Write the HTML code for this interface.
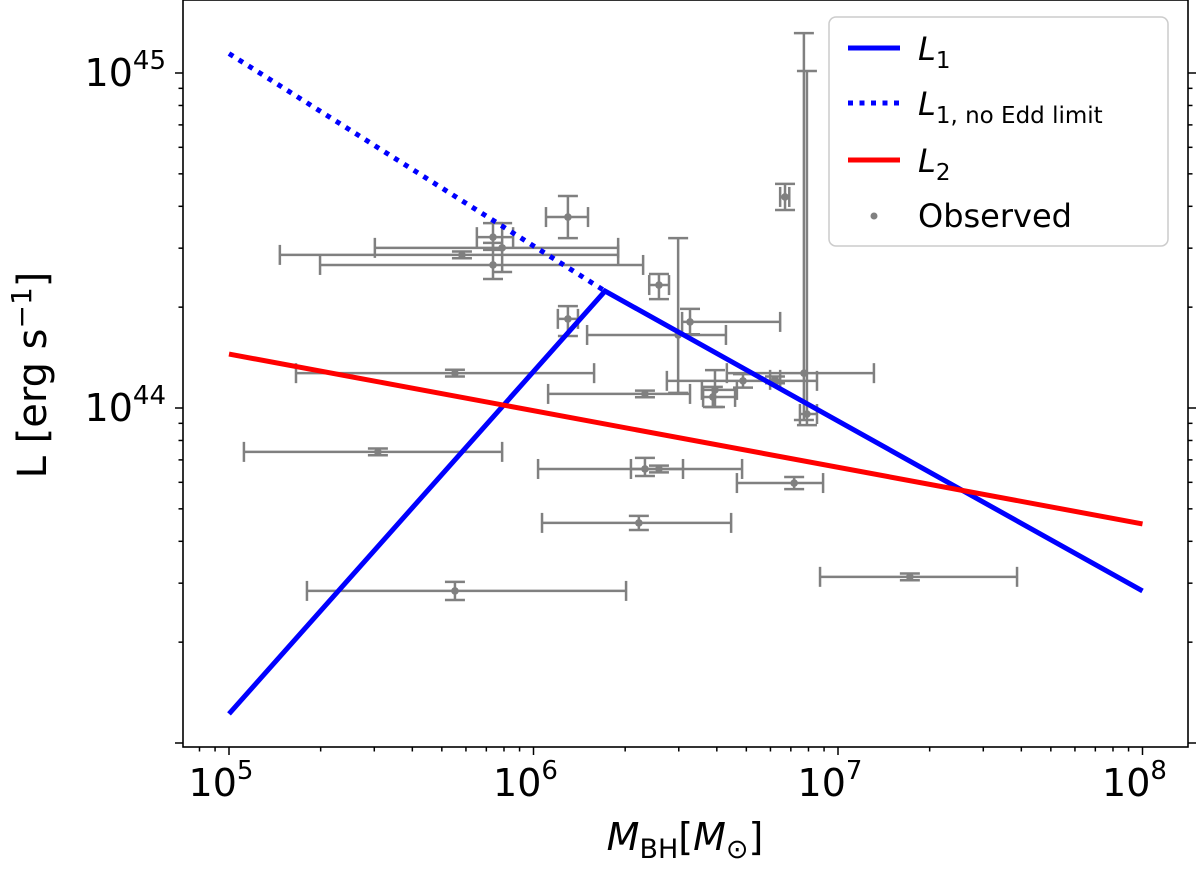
<!DOCTYPE html>
<html><head><meta charset="utf-8"><style>
body{margin:0;background:#fff}
svg{display:block;font-family:"DejaVu Sans","Liberation Sans",sans-serif}
</style></head><body>
<svg id="chart" width="1200" height="869" viewBox="0 0 1200 869" xmlns="http://www.w3.org/2000/svg">
<rect x="0" y="0" width="1200" height="869" fill="#fff"/>
<g id="errs"></g>
<g id="lines"></g>
<g id="axes"></g>
<rect x="183" y="0" width="1005" height="747" fill="none" stroke="#000" stroke-width="1.6"/>
<g>
<rect x="829" y="17" width="339" height="229" rx="7" fill="#fff" fill-opacity="0.85" stroke="#ccc" stroke-width="1.5"/>
<line x1="848" y1="48" x2="900" y2="48" stroke="#0000ff" stroke-width="5"/>
<text x="918" y="60" font-size="32"><tspan font-style="italic">L</tspan><tspan font-size="23" dy="8">1</tspan></text>
<line x1="848" y1="103" x2="900" y2="103" stroke="#0000ff" stroke-width="5" stroke-dasharray="5,6.5"/>
<text x="918" y="115" font-size="32"><tspan font-style="italic">L</tspan><tspan font-size="23" dy="8">1, no Edd limit</tspan></text>
<line x1="848" y1="160" x2="900" y2="160" stroke="#ff0000" stroke-width="5"/>
<text x="918" y="172" font-size="32"><tspan font-style="italic">L</tspan><tspan font-size="23" dy="8">2</tspan></text>
<circle cx="874" cy="216" r="3.5" fill="#808080"/>
<text x="918" y="227" font-size="32">Observed</text>
</g>
<text transform="translate(46,375) rotate(-90)" text-anchor="middle" font-size="40">L [erg s<tspan font-size="28" dy="-15">−1</tspan><tspan dy="15">]</tspan></text>
<text x="685" y="850" text-anchor="middle" font-size="38"><tspan font-style="italic">M</tspan><tspan font-size="27" dy="8">BH</tspan><tspan dy="-8">[</tspan><tspan font-style="italic">M</tspan><tspan font-size="27" dy="8">⊙</tspan><tspan dy="-8">]</tspan></text>
</svg>
<script>
// log10 values
const obsLogM   = [5.867,5.897,5.765,5.867,6.113,6.412,6.113,6.475,6.514,5.742,6.366,5.489,5.742,6.366,6.412,6.856,6.346,7.236,6.826,6.596,6.589,6.688,6.793,6.888,6.898];
const obsLogMlo = [5.814,5.479,5.167,5.299,6.041,6.380,6.080,6.176,6.488,5.220,6.048,5.049,5.256,6.015,6.320,6.668,6.028,6.941,6.810,6.553,6.557,6.438,6.777,6.635,6.875];
const obsLogMhi = [5.933,6.278,6.278,6.360,6.179,6.445,6.146,6.632,6.810,6.199,6.514,5.897,6.304,6.491,6.685,6.951,6.649,7.588,6.840,6.668,6.662,6.931,6.810,7.118,6.931];
const obsLogL   = [44.510,44.478,44.457,44.427,44.570,44.367,44.266,44.218,44.257,44.104,44.042,43.869,43.454,43.818,43.818,43.776,43.657,43.496,44.630,44.054,44.033,44.081,44.084,44.104,43.982];
const obsLogLlo = [44.472,44.406,44.447,44.385,44.507,44.325,44.215,44.045,44.220,44.094,44.032,43.859,43.427,43.797,43.808,43.758,43.636,43.486,44.591,44.003,44.003,44.061,44.074,43.964,43.949];
const obsLogLhi = [44.552,44.552,44.467,44.493,44.633,44.400,44.304,44.507,44.296,44.114,44.052,43.879,43.481,43.851,43.828,43.794,43.678,43.506,44.669,44.113,44.063,44.101,44.094,45.119,45.006];
const l1LogM = [5, 6.235, 8];
const l1LogL = [43.087, 44.349, 43.454];
const l1ndLogM = [5, 6.235];
const l1ndLogL = [45.058, 44.349];
const l2LogM = [5, 8];
const l2LogL = [44.161, 43.654];
const xMajor = [5,6,7,8];
const yMajor = [44,45];
const xTickLabels = ['10','10','10','10'];
const xTickExp = ['5','6','7','8'];
const yTickExp = ['44','45'];

const NS='http://www.w3.org/2000/svg';
const X = v => 229 + (v-5)*304.5;
const Y = v => 408 - (v-44)*335;
function mk(tag, attrs, parent){const e=document.createElementNS(NS,tag);for(const k in attrs)e.setAttribute(k,attrs[k]);parent.appendChild(e);return e;}
const errs=document.getElementById('errs');
const gray='#808080';
for(let i=0;i<obsLogM.length;i++){
  const g=mk('g',{},errs);
  
  
  const x=X(obsLogM[i]),y=Y(obsLogL[i]);
  const x1=X(obsLogMlo[i]),x2=X(obsLogMhi[i]),y1=Y(obsLogLlo[i]),y2=Y(obsLogLhi[i]);
  const s={stroke:gray,'stroke-width':2.5,fill:'none'};
  mk('line',Object.assign({x1:x1,y1:y,x2:x2,y2:y},s),g);
  mk('line',Object.assign({x1:x1,y1:y-10,x2:x1,y2:y+10},s),g);
  mk('line',Object.assign({x1:x2,y1:y-10,x2:x2,y2:y+10},s),g);
  mk('line',Object.assign({x1:x,y1:y1,x2:x,y2:y2},s),g);
  mk('line',Object.assign({x1:x-10,y1:y1,x2:x+10,y2:y1},s),g);
  mk('line',Object.assign({x1:x-10,y1:y2,x2:x+10,y2:y2},s),g);
  mk('circle',{cx:x,cy:y,r:3.8,fill:gray},g);
}
const lines=document.getElementById('lines');
function poly(ms,ls,attrs,name){
  const p=mk('polyline',Object.assign({points:ms.map((m,i)=>X(m)+','+Y(ls[i])).join(' '),fill:'none'},attrs),lines);
  
  
}
poly(l1ndLogM,l1ndLogL,{stroke:'#0000ff','stroke-width':5,'stroke-dasharray':'5,6.5'},'l1-no-edd-line');
poly(l1LogM,l1LogL,{stroke:'#0000ff','stroke-width':5},'l1-line');
poly(l2LogM,l2LogL,{stroke:'#ff0000','stroke-width':5},'l2-line');

const axes=document.getElementById('axes');
function tick(x1,y1,x2,y2,name){const t=mk('line',{x1:x1,y1:y1,x2:x2,y2:y2,stroke:'#000','stroke-width':1.5},axes);}
for(let d=4;d<=8;d++){for(let k=1;k<10;k++){const v=d+Math.log10(k);const x=X(v);if(x<184||x>1187)continue;const L=k===1?8:4.5;
  tick(x,747,x,747+L,'x-tick');tick(x,0,x,-L,'x-tick-top');}}
for(let d=42;d<=45;d++){for(let k=1;k<10;k++){const v=d+Math.log10(k);const y=Y(v);if(y<1||y>746)continue;const L=k===1?8:4.5;
  tick(183,y,183-L,y,'y-tick');tick(1188,y,1188+L,y,'y-tick-right');}}
xMajor.forEach((v,i)=>{const t=mk('text',{x:X(v)-8,y:796,'text-anchor':'middle','font-size':38},axes);
  
  t.innerHTML=xTickLabels[i]+'<tspan font-size="26" dy="-17">'+xTickExp[i]+'</tspan>';});
yMajor.forEach((v,i)=>{const t=mk('text',{x:166,y:Y(v)+13,'text-anchor':'end','font-size':38},axes);
  
  t.innerHTML='10<tspan font-size="26" dy="-17">'+yTickExp[i]+'</tspan>';});
</script>
</body></html>
